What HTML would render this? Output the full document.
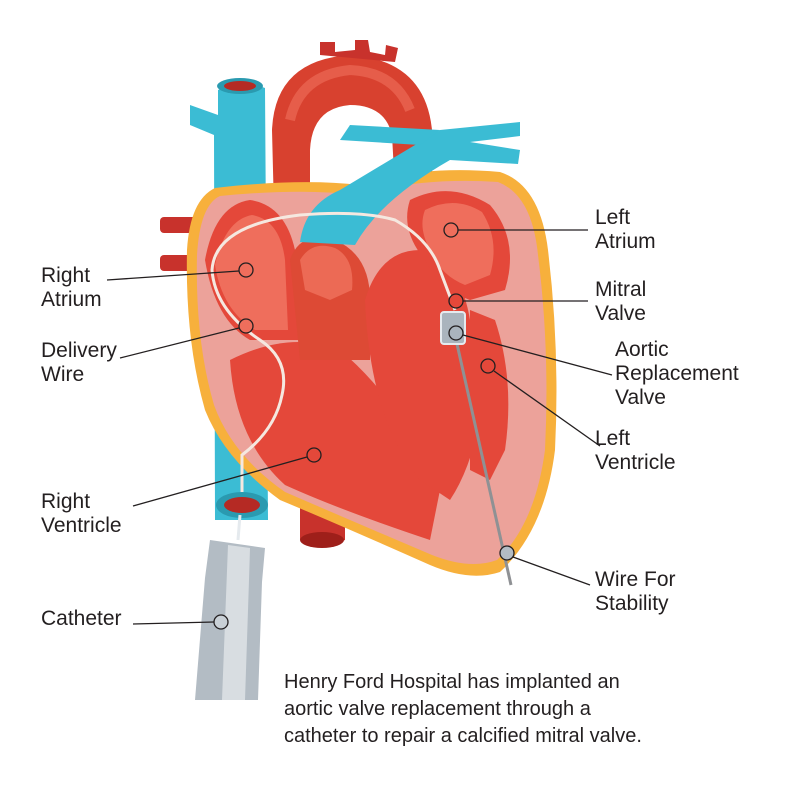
<!DOCTYPE html>
<html><head><meta charset="utf-8"><style>
html,body{margin:0;padding:0;background:#fff;}
svg{display:block;}
text{font-family:"Liberation Sans Narrow","Liberation Sans",sans-serif;fill:#231f20;}
</style></head><body>
<svg width="793" height="800" viewBox="0 0 793 800" xmlns="http://www.w3.org/2000/svg">
<!-- pulmonary veins -->
<g fill="#c8322c">
<rect x="160" y="217" width="40" height="16" rx="4"/>
<rect x="160" y="255" width="40" height="16" rx="4"/>
<rect x="495" y="203" width="25" height="15" rx="4"/>
<rect x="495" y="228" width="25" height="15" rx="4"/>
</g>
<!-- descending aorta -->
<path d="M300 470 L345 470 L345 540 Q322 552 300 540 Z" fill="#c8322c"/>
<ellipse cx="322" cy="540" rx="22" ry="8" fill="#9e1f1a"/>
<!-- aortic arch -->
<path d="M275 250 L272 130 Q275 60 350 55 Q425 60 432 130 L432 185 L395 190 L392 135 Q385 105 350 105 Q312 108 310 150 L310 250 Z" fill="#d8412f"/>
<path d="M320 55 L320 42 L335 42 L335 52 L355 50 L355 40 L368 40 L370 52 L385 55 L386 45 L398 48 L395 62 Z" fill="#c8322c"/>
<path d="M290 120 Q300 75 350 70 Q395 72 410 110" fill="none" stroke="#ec6a55" stroke-width="10" opacity=".7"/>
<!-- SVC blue -->
<path d="M190 105 L218 115 L218 90 Q240 78 265 88 L268 520 L215 520 L214 135 L190 125 Z" fill="#3bbcd4"/>
<ellipse cx="240" cy="86" rx="23" ry="8" fill="#2a9ab0"/>
<ellipse cx="240" cy="86" rx="16" ry="5" fill="#b52a24"/>
<!-- heart body -->
<path d="M187 250 Q190 200 215 188 Q300 178 360 185 Q420 165 500 172 Q540 185 548 250 Q560 350 555 450 Q545 530 500 572 Q470 582 430 565 Q340 525 280 500 Q225 460 205 410 Q185 340 187 250 Z" fill="#f7b03c"/>
<path d="M197 255 Q200 205 220 196 Q300 188 360 195 Q420 177 498 182 Q532 195 538 255 Q550 350 545 450 Q535 525 497 560 Q470 570 432 555 Q345 518 285 492 Q232 455 214 405 Q195 340 197 255 Z" fill="#eca29a"/>
<!-- chambers -->
<path d="M205 260 Q215 205 250 200 Q285 205 295 250 L300 340 L250 340 Q215 320 205 260 Z" fill="#e4483a"/>
<path d="M215 265 Q225 220 252 215 Q280 220 285 260 L288 330 L255 330 Q222 310 215 265 Z" fill="#ef6e5c"/>
<path d="M230 360 Q290 330 340 350 Q400 400 440 490 L430 540 Q340 510 285 485 Q235 440 230 360 Z" fill="#e4483a"/>
<path d="M290 260 Q300 230 335 240 Q370 255 370 300 L370 360 L300 360 Z" fill="#dd4a35"/>
<path d="M300 260 Q312 240 335 248 Q355 258 352 290 L330 300 L305 290 Z" fill="#ec6a55"/>
<path d="M365 300 Q380 250 420 250 Q460 260 470 320 L480 420 Q470 470 450 500 L420 480 Q370 420 365 300 Z" fill="#e4483a"/>
<path d="M410 200 Q450 180 490 205 Q520 240 505 290 L470 300 Q440 290 425 260 Q400 230 410 200 Z" fill="#e4483a"/>
<path d="M425 210 Q455 195 482 212 Q500 240 490 275 L465 285 Q440 275 430 250 Q418 228 425 210 Z" fill="#ef6e5c"/>
<path d="M470 310 L495 320 Q515 380 505 450 L490 480 L470 470 Z" fill="#e4483a"/>
<!-- pulmonary artery blue -->
<path d="M300 242 Q305 205 340 190 L440 130 L520 122 L520 136 L470 142 L520 150 L518 164 L450 160 Q380 200 355 245 Z" fill="#3bbcd4"/>
<path d="M340 140 L350 125 L440 130 L420 145 Z" fill="#3bbcd4"/>
<!-- delivery wire -->
<path d="M242 505 L242 455 Q275 430 282 395 Q290 360 260 340 Q215 310 212 270 Q215 225 300 215 Q360 210 395 220 Q430 240 440 270 L455 310" fill="none" stroke="#f5e8e0" stroke-width="3"/>
<ellipse cx="242" cy="505" rx="26" ry="13" fill="#2a9ab0"/>
<ellipse cx="242" cy="505" rx="18" ry="8" fill="#b52a24"/>
<!-- stability wire -->
<line x1="455" y1="335" x2="511" y2="585" stroke="#8f9194" stroke-width="3"/>
<!-- valve -->
<rect x="441" y="312" width="24" height="32" rx="3" fill="#aab4bd" stroke="#e5eaee" stroke-width="2"/>
<!-- catheter -->
<line x1="240" y1="515" x2="238" y2="540" stroke="#e5eaee" stroke-width="3"/>
<path d="M210 540 L265 548 L262 582 L258 700 L195 700 L205 578 Z" fill="#b3bcc4"/>
<path d="M228 545 L250 548 L249 580 L245 700 L222 700 Z" fill="#d8dde1"/>
<!-- leader lines -->
<g stroke="#231f20" stroke-width="1.3" fill="none">
<line x1="107" y1="280" x2="239" y2="271"/><circle cx="246" cy="270" r="7" fill="#ef6e5c"/>
<line x1="120" y1="358" x2="239" y2="328"/><circle cx="246" cy="326" r="7" fill="#ef6e5c"/>
<line x1="133" y1="506" x2="307" y2="457"/><circle cx="314" cy="455" r="7" fill="#e4483a"/>
<line x1="133" y1="624" x2="214" y2="622"/><circle cx="221" cy="622" r="7" fill="#c9d0d6"/>
<line x1="458" y1="230" x2="588" y2="230"/><circle cx="451" cy="230" r="7" fill="#ef6e5c"/>
<line x1="463" y1="301" x2="588" y2="301"/><circle cx="456" cy="301" r="7" fill="#e4483a"/>
<line x1="463" y1="335" x2="612" y2="375"/><circle cx="456" cy="333" r="7" fill="#aab4bd"/>
<line x1="494" y1="371" x2="600" y2="446"/><circle cx="488" cy="366" r="7" fill="#e4483a"/>
<line x1="513" y1="557" x2="590" y2="585"/><circle cx="507" cy="553" r="7" fill="#b3bcc4"/>
</g>
<!-- labels -->
<g font-size="21">
<text x="41" y="282">Right</text><text x="41" y="306">Atrium</text>
<text x="41" y="357">Delivery</text><text x="41" y="381">Wire</text>
<text x="41" y="508">Right</text><text x="41" y="532">Ventricle</text>
<text x="41" y="625">Catheter</text>
<text x="595" y="224">Left</text><text x="595" y="248">Atrium</text>
<text x="595" y="296">Mitral</text><text x="595" y="320">Valve</text>
<text x="615" y="356">Aortic</text><text x="615" y="380">Replacement</text><text x="615" y="404">Valve</text>
<text x="595" y="445">Left</text><text x="595" y="469">Ventricle</text>
<text x="595" y="586">Wire For</text><text x="595" y="610">Stability</text>
</g>
<g font-size="20" style="font-family:'Liberation Sans',sans-serif">
<text x="284" y="688" fill="#333">Henry Ford Hospital has implanted an</text>
<text x="284" y="715" fill="#333">aortic valve replacement through a</text>
<text x="284" y="742" fill="#333">catheter to repair a calcified mitral valve.</text>
</g>
</svg>
</body></html>
